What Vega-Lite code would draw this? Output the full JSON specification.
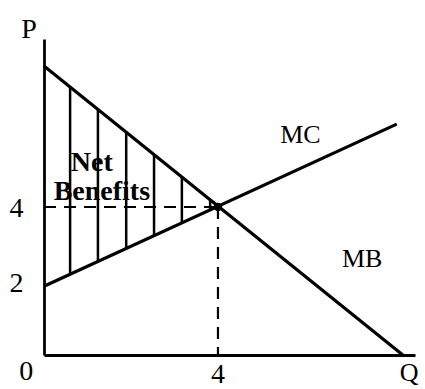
{
  "$schema": "https://vega.github.io/schema/vega-lite/v6.json",
  "width": 371,
  "height": 316,
  "autosize": {"type": "none"},
  "padding": {"left": 44, "top": 39, "right": 10, "bottom": 34},
  "background": "white",
  "config": {"view": {"stroke": null}},
  "layer": [
    {
      "data": {"values": [
        {"x": 0.6, "lo": 2.18, "hi": 7.24},
        {"x": 1.24, "lo": 2.53, "hi": 6.64},
        {"x": 1.89, "lo": 2.88, "hi": 6.02},
        {"x": 2.53, "lo": 3.23, "hi": 5.41},
        {"x": 3.17, "lo": 3.57, "hi": 4.81},
        {"x": 3.82, "lo": 3.92, "hi": 4.19}
      ]},
      "mark": {"type": "rule", "color": "black", "strokeWidth": 2.5},
      "encoding": {
        "x": {"field": "x", "type": "quantitative", "scale": {"domain": [0, 8.53], "nice": false, "zero": false},
              "axis": {"labels": false, "ticks": false, "grid": false, "title": null, "domainColor": "black", "domainWidth": 2.8}},
        "y": {"field": "lo", "type": "quantitative", "scale": {"domain": [0, 8.54], "nice": false, "zero": false},
              "axis": {"labels": false, "ticks": false, "grid": false, "title": null, "domainColor": "black", "domainWidth": 2.8}},
        "y2": {"field": "hi"}
      }
    },
    {
      "data": {"values": [
        {"curve": "MB", "x": 0, "y": 7.81},
        {"curve": "MB", "x": 8.25, "y": 0},
        {"curve": "MC", "x": 0, "y": 1.86},
        {"curve": "MC", "x": 8.11, "y": 6.24}
      ]},
      "mark": {"type": "line", "color": "black", "strokeWidth": 3.2},
      "encoding": {
        "x": {"field": "x", "type": "quantitative"},
        "y": {"field": "y", "type": "quantitative"},
        "detail": {"field": "curve"}
      }
    },
    {
      "data": {"values": [
        {"seg": "h", "x": 0, "y": 4},
        {"seg": "h", "x": 4, "y": 4},
        {"seg": "v", "x": 4, "y": 4},
        {"seg": "v", "x": 4, "y": 0}
      ]},
      "mark": {"type": "line", "color": "black", "strokeWidth": 2.2, "strokeDash": [12, 8]},
      "encoding": {
        "x": {"field": "x", "type": "quantitative"},
        "y": {"field": "y", "type": "quantitative"},
        "detail": {"field": "seg"}
      }
    },
    {
      "data": {"values": [{"x": 4, "y": 4}]},
      "mark": {"type": "point", "filled": true, "color": "black", "size": 70, "opacity": 1},
      "encoding": {
        "x": {"field": "x", "type": "quantitative"},
        "y": {"field": "y", "type": "quantitative"}
      }
    },
    {
      "data": {"values": [
        {"t": "P", "x": -0.345, "y": 8.57},
        {"t": "0", "x": -0.41, "y": -0.68},
        {"t": "4", "x": 4, "y": -0.76},
        {"t": "4", "x": -0.63, "y": 3.73},
        {"t": "2", "x": -0.63, "y": 1.7}
      ]},
      "mark": {"type": "text", "font": "Liberation Serif", "fontSize": 28, "color": "black", "align": "center", "baseline": "alphabetic"},
      "encoding": {
        "x": {"field": "x", "type": "quantitative"},
        "y": {"field": "y", "type": "quantitative"},
        "text": {"field": "t"}
      }
    },
    {
      "data": {"values": [
        {"t": "Q", "x": 8.18, "y": -0.7},
        {"t": "MC", "x": 5.43, "y": 5.73},
        {"t": "MB", "x": 6.85, "y": 2.38}
      ]},
      "mark": {"type": "text", "font": "Liberation Serif", "fontSize": 26, "color": "black", "align": "left", "baseline": "alphabetic"},
      "encoding": {
        "x": {"field": "x", "type": "quantitative"},
        "y": {"field": "y", "type": "quantitative"},
        "text": {"field": "t"}
      }
    },
    {
      "data": {"values": [
        {"t": "Net", "x": 1.1, "y": 4.97},
        {"t": "Benefits", "x": 1.33, "y": 4.19}
      ]},
      "mark": {"type": "text", "font": "Liberation Serif", "fontSize": 28, "fontWeight": "bold", "color": "black", "align": "center", "baseline": "alphabetic"},
      "encoding": {
        "x": {"field": "x", "type": "quantitative"},
        "y": {"field": "y", "type": "quantitative"},
        "text": {"field": "t"}
      }
    }
  ]
}
